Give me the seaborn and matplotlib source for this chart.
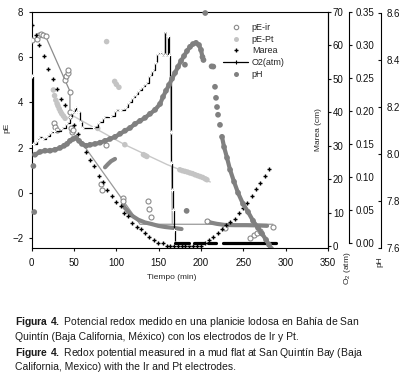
import matplotlib
matplotlib.use("Agg")
import matplotlib.pyplot as plt
from matplotlib.lines import Line2D
from matplotlib.ticker import FormatStrFormatter
import numpy as np
import pandas as pd
import seaborn as sns

sns.set_style("ticks")
plt.rcParams['font.family'] = ['Liberation Sans', 'DejaVu Sans']
plt.rcParams['mathtext.fontset'] = 'custom'
plt.rcParams['mathtext.rm'] = 'Liberation Sans'
plt.rcParams['mathtext.bf'] = 'Liberation Sans:bold'

# pE-ir (open circles), pE scale
ir_t = [0, 6, 8.6, 11, 13.7, 16.5, 39, 41, 42.5, 43, 45, 45, 26.7, 27.5, 29.5, 47, 48, 49,
        88, 82, 82.7, 107.5, 108, 137, 138, 141, 207.5, 228, 258, 262, 266, 270, 285]
ir_v = [6.75, 6.82, 7.0, 7.03, 7.0, 6.92, 5.0, 5.15, 5.3, 5.45, 4.46, 3.58, 3.07, 2.92, 2.8, 2.85, 2.7, 2.79,
        2.11, 0.39, 0.14, -0.23, -0.38, -0.35, -0.72, -1.08, -1.23, -1.55, -2.0, -1.88, -1.78, -1.7, -1.53]
# dense pE-ir runs
band_t = [86.6, 90.1, 93.7, 98.4,
          107.8, 110.2, 118.0, 125.9, 133.8, 141.7, 149.5, 157.5, 169.3, 177,
          207.1, 212, 218.5, 228, 240, 254, 266, 278]
band_v = [1.13, 1.27, 1.40, 1.50,
          -0.54, -0.67, -1.0, -1.19, -1.31, -1.38, -1.46, -1.51, -1.56, -1.6,
          -1.25, -1.32, -1.37, -1.42, -1.43, -1.43, -1.44, -1.46]
band_seg = [1] * 4 + [2] * 10 + [3] * 8

# pE-Pt (light grey dots)
pt_t = [25.6, 27, 28.5, 30, 31, 32.5, 34, 35.5, 37.5, 39.5, 78, 88.5, 98, 100, 103, 110, 132, 134, 136,
        175, 178, 181, 184, 187, 190, 193, 196, 199, 202, 205, 207]
pt_v = [4.55, 4.3, 4.1, 3.95, 3.85, 3.72, 3.6, 3.5, 3.4, 3.3, 2.85, 6.69, 4.93, 4.8, 4.67, 2.13, 1.69, 1.65, 1.61,
        1.02, 0.98, 0.95, 0.92, 0.88, 0.85, 0.8, 0.76, 0.72, 0.68, 0.62, 0.58]

# trend lines
fit_ir_t = [16.5, 45.2, 45.2]
fit_ir_v = [6.92, 4.49, 3.55]
fit_ir2_t = [59, 128, 285]
fit_ir2_v = [2.23, -1.39, -1.39]
fit_pt_t = [43, 80, 110, 160, 211]
fit_pt_v = [3.53, 2.75, 2.13, 1.25, 0.48]
vline_t = [163.8, 166.1]
vline_v = [5.08, -1.41]

# Marea (cm)
marea_t = [0.7, 4.7, 9, 14.5, 19.6, 24.8, 29.5, 34.6, 39.3, 45.2, 50, 54.5, 59, 64, 69, 74, 79.5, 84, 89, 94.5,
           99.6, 105, 109, 114, 119, 124, 129, 134, 139, 144.5, 149.5, 155, 159.5, 163.5, 168, 172.5, 177, 181.5,
           186, 190.5, 195, 199.5, 205, 209.5, 214.5, 219.7, 224.4, 229.5, 234.2, 240, 245, 250, 254.7, 260, 265,
           270, 275, 280]
marea_v = [66.0, 63.0, 60.0, 56.9, 53.0, 50.1, 47.1, 44.1, 42.1, 38.5, 36.1, 33.4, 30.8, 28.2, 25.8, 23.8, 20.8,
           19.1, 16.8, 14.9, 13.2, 11.9, 9.9, 8.9, 7.0, 5.8, 5.0, 4.0, 2.8, 1.8, 1.0, 1.0, 0.0, 0.0, 0.0, 0.0, 0.0,
           0.0, 0.0, 0.0, 0.0, 0.0, 0.8, 1.8, 2.8, 4.0, 5.0, 6.3, 7.3, 8.0, 10.0, 11.3, 13.0, 15.0, 17.0, 18.9,
           21.0, 22.9]

# O2 (atm), change points
o2_t = [0, 1, 6, 8, 12, 17, 22, 26, 35, 40, 45, 48, 51, 52, 55, 57, 60, 72, 78, 84, 92, 98, 104, 110, 114, 118,
        122, 126, 130, 134, 138, 142, 146, 148, 151, 153, 157, 158, 161, 162, 163, 164, 165, 166, 167, 168, 169, 186]
o2_v = [0.253, 0.150, 0.156, 0.161, 0.158, 0.163, 0.168, 0.170, 0.175, 0.182, 0.191, 0.199, 0.207, 0.199, 0.199,
        0.184, 0.174, 0.176, 0.184, 0.191, 0.193, 0.202, 0.202, 0.206, 0.214, 0.222, 0.226, 0.232, 0.238, 0.242,
        0.255, 0.262, 0.275, 0.288, 0.290, 0.285, 0.321, 0.285, 0.313, 0.285, 0.250, 0.169, 0.121, 0.081, 0.050,
        0.020, 0.0, 0.0]
o2_zero_t = [169, 186, 192, 203, 208, 218, 226, 288]
o2_zero_v = [0.0] * 8
o2_zero_seg = [1, 1, 2, 2, 3, 3, 4, 4]

# pH
ph_t = [3.9, 9.8, 15.7, 21.6, 27.5, 33.4, 38.2, 41.7, 45.2, 48.8, 52.3, 55.9, 59.4, 64.1, 68.8, 74.8, 80.7, 86.6,
        92.5, 98.4, 104.3, 110.2, 116.1, 122.0, 127.9, 133.8, 139.7, 145.7, 151.6, 155.1, 158.6, 162.2, 165.7,
        169.3, 172.8, 176.4, 179.9, 183.4, 187.0, 190.5, 194.1, 197.6, 200.0, 201.7, 202.9,
        214.5, 216.5, 217.7, 218.9, 220.1, 222.4, 224.8, 227.2, 230.7, 234.3, 239.0, 243.7, 249.6, 255.5, 261.4,
        267.3, 272.1, 276.8, 280.3, 282.7]
ph_v = [7.997, 8.009, 8.014, 8.014, 8.018, 8.026, 8.035, 8.043, 8.056, 8.064, 8.069, 8.056, 8.043, 8.035, 8.039,
        8.043, 8.048, 8.056, 8.064, 8.073, 8.086, 8.099, 8.111, 8.128, 8.141, 8.154, 8.171, 8.188, 8.213, 8.243,
        8.269, 8.294, 8.32, 8.345, 8.371, 8.396, 8.417, 8.438, 8.456, 8.468, 8.473, 8.464, 8.443, 8.413, 8.40,
        8.372, 8.286, 8.239, 8.2, 8.167, 8.124, 8.073, 8.03, 7.984, 7.933, 7.882, 7.835, 7.788, 7.754, 7.716,
        7.686, 7.661, 7.635, 7.614, 7.597]
ph_seg = [1] * 45 + [0] * 6 + [2] * 14
ph_iso_t = [2, 3, 181, 183, 205, 212.5]
ph_iso_v = [7.949, 7.753, 8.38, 7.758, 8.6, 8.373]

caption = [r"$\mathbf{Figura\ 4.}$ Potencial redox medido en una planicie lodosa en Bahía de San",
           "Quintín (Baja California, México) con los electrodos de Ir y Pt.",
           r"$\mathbf{Figure\ 4.}$ Redox potential measured in a mud flat at San Quintín Bay (Baja",
           "California, Mexico) with the Ir and Pt electrodes."]

W, H = 402, 380
fig = plt.figure(figsize=(W / 100, H / 100), dpi=100)
fig.patch.set_facecolor('white')
x0, x1, y0, y1 = 31.7, 328, 12, 248
ax = fig.add_axes([x0 / W, 1 - y1 / H, (x1 - x0) / W, (y1 - y0) / H])

c_ir = '#8a8a8a'
c_pt = '#c4c4c4'
c_ph = '#808080'

# trend lines
sns.lineplot(x=fit_ir_t, y=fit_ir_v, ax=ax, estimator=None, sort=False, color='#8c8c8c', lw=0.9, zorder=1)
sns.lineplot(x=fit_ir2_t, y=fit_ir2_v, ax=ax, estimator=None, sort=False, color='#999999', lw=0.9, zorder=1)
sns.lineplot(x=fit_pt_t, y=fit_pt_v, ax=ax, estimator=None, sort=False, color='#c8c8c8', lw=1.0, zorder=1)
sns.lineplot(x=vline_t, y=vline_v, ax=ax, estimator=None, sort=False, color='#a8a8a8', lw=0.9, zorder=1)

band = pd.DataFrame({"t": band_t, "pE": band_v, "seg": band_seg})
sns.lineplot(data=band, x="t", y="pE", units="seg", estimator=None, sort=False, ax=ax,
             color='#858585', lw=3.0, solid_capstyle='round', zorder=2, legend=False)

sns.scatterplot(x=pt_t, y=pt_v, ax=ax, s=16, color=c_pt, edgecolor='none', zorder=3, legend=False)
sns.scatterplot(x=ir_t, y=ir_v, ax=ax, s=13, color='white', edgecolor=c_ir, linewidth=0.8, zorder=4,
                legend=False)

ax.set_xlim(0, 350)
ax.set_ylim(-2.44, 8)
ax.set_xticks(np.arange(0, 351, 50))
ax.set_yticks(np.arange(-2, 9, 2))
ax.tick_params(axis='both', direction='out', length=2.5, width=0.8, labelsize=7, colors='#111111')
ax.tick_params(axis='x', pad=5)
ax.tick_params(axis='y', pad=3.5)
for s in ax.spines.values():
    s.set_linewidth(0.8)
    s.set_color('black')
ax.set_xlabel("Tiempo (min)", fontsize=6, va='center')
ax.xaxis.set_label_coords((172 - x0) / (x1 - x0), -0.123)
ax.set_ylabel("pE", fontsize=6, va='center')
ax.yaxis.set_label_coords((7 - x0) / (x1 - x0), 0.508)

# Marea axis
axm = ax.twinx()
sns.scatterplot(x=marea_t, y=marea_v, ax=axm, marker='+', s=8, color='black', linewidth=1.0, legend=False)
axm.set_ylim(-0.6, 70)
axm.set_yticks(np.arange(0, 71, 10))

# O2 axis
axo = ax.twinx()
sns.lineplot(x=o2_t, y=o2_v, ax=axo, estimator=None, sort=False, color='black', lw=0.9,
             drawstyle='steps-post', marker='+', markersize=3, mew=0.8)
o2z = pd.DataFrame({"t": o2_zero_t, "o2": o2_zero_v, "seg": o2_zero_seg})
sns.lineplot(data=o2z, x="t", y="o2", units="seg", estimator=None, sort=False, ax=axo,
             color='black', lw=2.3, legend=False)
axo.set_ylim(-0.0071, 0.35)
axo.set_yticks(np.arange(0, 0.351, 0.05))
axo.yaxis.set_major_formatter(FormatStrFormatter('%.2f'))
axo.spines['right'].set_position(('axes', (349 - x0) / (x1 - x0)))
axo.spines['right'].set_bounds(0, 0.35)

# pH axis
axp = ax.twinx()
ph = pd.DataFrame({"t": ph_t, "pH": ph_v, "seg": ph_seg})
sns.lineplot(data=ph[ph.seg > 0], x="t", y="pH", units="seg", estimator=None, sort=False, ax=axp,
             color=c_ph, lw=3.0, solid_capstyle='round', legend=False)
sns.scatterplot(data=ph, x="t", y="pH", ax=axp, s=17, color=c_ph, edgecolor='none', legend=False)
sns.scatterplot(x=ph_iso_t, y=ph_iso_v, ax=axp, s=17, color=c_ph, edgecolor='none', legend=False,
                clip_on=False)
axp.set_ylim(7.6013, 8.6043)
axp.set_yticks(np.arange(7.6, 8.61, 0.2))
axp.yaxis.set_major_formatter(FormatStrFormatter('%.1f'))
axp.spines['right'].set_position(('axes', (381 - x0) / (x1 - x0)))
axp.spines['right'].set_bounds(7.6, 8.6)

for a in (axm, axo, axp):
    for k in ('left', 'top', 'bottom'):
        a.spines[k].set_visible(False)
    a.spines['right'].set_linewidth(0.8)
    a.spines['right'].set_color('black')
    a.set_xlabel("")
    a.set_ylabel("")
    a.tick_params(axis='y', direction='out', length=2.5, width=0.8, labelsize=7, pad=1, colors='#111111')
axo.tick_params(axis='y', pad=2.5)
axp.tick_params(axis='y', direction='in', pad=4)
ax.set_xlim(0, 350)

axm.set_ylabel("Marea (cm)", fontsize=6, va='center')
axm.yaxis.set_label_coords((318 - x0) / (x1 - x0), 0.5)
fig.text(348 / W, 1 - 268 / H, r"O$\mathregular{_2}$ (atm)", rotation=90, fontsize=6, ha='center', va='center')
fig.text(380 / W, 1 - 262 / H, "pH", rotation=90, fontsize=6, ha='center', va='center')

handles = [
    Line2D([], [], ls='none', marker='o', mfc='white', mec=c_ir, ms=3.2, mew=0.8),
    Line2D([], [], ls='none', marker='o', mfc=c_pt, mec='none', ms=3.6),
    Line2D([], [], ls='none', marker='+', color='black', ms=3, mew=1.0),
    Line2D([], [], color='black', lw=0.9, marker='+', ms=3, mew=0.8),
    Line2D([], [], ls='none', marker='o', mfc=c_ph, mec='none', ms=3.6),
]
labels = ["pE-ir", "pE-Pt", "Marea", "O2(atm)", "pH"]
fig.legend(handles, labels, loc='upper left', bbox_to_anchor=(223 / W, 1 - 23 / H), frameon=False,
           fontsize=6.5, handlelength=2.8, handletextpad=0.4, labelspacing=0.3, borderpad=0, borderaxespad=0)

for i, line in enumerate(caption):
    fig.text(15 / W, 1 - [321.7, 336.7, 352.7, 367.3][i] / H, line, fontsize=7.5, ha='left', va='center',
             color='#1a1a1a')

fig.savefig("out.png", dpi=100, facecolor='white')
